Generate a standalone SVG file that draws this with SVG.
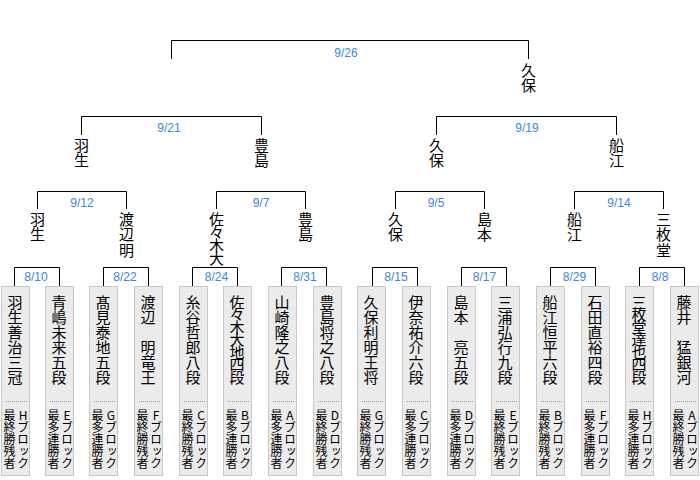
<svg xmlns="http://www.w3.org/2000/svg" width="700" height="480" viewBox="0 0 700 480">
<style>
.ln{fill:none;stroke:#000;stroke-width:1}
.box{fill:#ebebeb;stroke:#c8c8c8;stroke-width:1}
.dot{stroke:#9a9a9a;stroke-width:1;stroke-dasharray:1 1}
.dt{font-family:"Liberation Sans",Arial,sans-serif;font-size:12px;fill:#3d85e0;text-anchor:middle}
.v{font-family:"Noto Sans CJK JP","Noto Sans CJK SC",sans-serif;font-size:15px;fill:#000;writing-mode:vertical-rl;text-orientation:upright}
.w{letter-spacing:0.5px}
.s{font-family:"Noto Sans CJK JP","Noto Sans CJK SC",sans-serif;font-size:12px;fill:#000;writing-mode:vertical-rl;text-orientation:upright}
.c7{letter-spacing:-2.5px}
</style>
<rect width="700" height="480" fill="#fff"/>
<g id="connectors">
<path class="ln" d="M14.5,286V267.5H59.5V286M103.5,286V267.5H148.5V286M192.5,286V267.5H237.5V286M281.5,286V267.5H326.5V286M372.5,286V267.5H417.5V286M461.5,286V267.5H506.5V286M550.5,286V267.5H595.5V286M639.5,286V267.5H684.5V286"/>
<path class="ln" d="M37.5,209V191.5H126.5V209M216.5,209V191.5H305.5V209M395.5,209V191.5H484.5V209M574.5,209V191.5H663.5V209"/>
<path class="ln" d="M81.5,135V116.5H261.5V135M436.5,135V116.5H616.5V135"/>
<path class="ln" d="M171.5,59V40.5H528.5V59"/>
</g>
<g id="dates">
<text class="dt" x="346" y="57">9/26</text>
<text class="dt" x="169" y="132">9/21</text>
<text class="dt" x="527" y="132">9/19</text>
<text class="dt" x="82" y="207">9/12</text>
<text class="dt" x="261" y="207">9/7</text>
<text class="dt" x="436" y="207">9/5</text>
<text class="dt" x="619" y="207">9/14</text>
<text class="dt" x="36" y="281">8/10</text>
<text class="dt" x="125" y="281">8/22</text>
<text class="dt" x="216.5" y="281">8/24</text>
<text class="dt" x="305" y="281">8/31</text>
<text class="dt" x="396" y="281">8/15</text>
<text class="dt" x="484.5" y="281">8/17</text>
<text class="dt" x="574.5" y="281">8/29</text>
<text class="dt" x="660" y="281">8/8</text>
</g>
<g id="winners">
<text class="v w" x="528.5" y="62.5">久保</text>
<text class="v w" x="81.5" y="137.5">羽生</text>
<text class="v w" x="261.5" y="137.5">豊島</text>
<text class="v w" x="436.5" y="137.5">久保</text>
<text class="v w" x="616.5" y="137.5">船江</text>
<text class="v w" x="37.5" y="211.5">羽生</text>
<text class="v w" x="126.5" y="211.5">渡辺明</text>
<text class="v" x="216.5" y="211.5" style="letter-spacing:-2px">佐々木大</text>
<text class="v w" x="305.5" y="211.5">豊島</text>
<text class="v w" x="395.5" y="211.5">久保</text>
<text class="v w" x="484.5" y="211.5">島本</text>
<text class="v w" x="574.5" y="211.5">船江</text>
<text class="v w" x="663.5" y="211.5">三枚堂</text>
</g>
<g id="p1"><rect class="box" x="1.5" y="286.5" width="28" height="189"/><text class="v" x="15" y="294.5">羽生善治三冠</text><line class="dot" x1="6" y1="401.5" x2="27" y2="401.5"/><text class="s" x="9.5" y="409.5">最終勝残者</text><text class="s" x="23" y="409.5">Hブロック</text></g>
<g id="p2"><rect class="box" x="45.5" y="286.5" width="28" height="189"/><text class="v" x="59" y="294.5">青嶋未来五段</text><line class="dot" x1="50" y1="401.5" x2="71" y2="401.5"/><text class="s" x="53.5" y="409.5">最多連勝者</text><text class="s" x="67" y="409.5">Eブロック</text></g>
<g id="p3"><rect class="box" x="89.5" y="286.5" width="28" height="189"/><text class="v" x="103" y="294.5">髙見泰地五段</text><line class="dot" x1="94" y1="401.5" x2="115" y2="401.5"/><text class="s" x="97.5" y="409.5">最多連勝者</text><text class="s" x="111" y="409.5">Gブロック</text></g>
<g id="p4"><rect class="box" x="134.5" y="286.5" width="28" height="189"/><text class="v" x="148" y="294.5">渡辺　明竜王</text><line class="dot" x1="139" y1="401.5" x2="160" y2="401.5"/><text class="s" x="142.5" y="409.5">最終勝残者</text><text class="s" x="156" y="409.5">Fブロック</text></g>
<g id="p5"><rect class="box" x="179.5" y="286.5" width="28" height="189"/><text class="v" x="193" y="294.5">糸谷哲郎八段</text><line class="dot" x1="184" y1="401.5" x2="205" y2="401.5"/><text class="s" x="187.5" y="409.5">最終勝残者</text><text class="s" x="201" y="409.5">Cブロック</text></g>
<g id="p6"><rect class="box" x="223.5" y="286.5" width="28" height="189"/><text class="v c7" x="237" y="294.5">佐々木大地四段</text><line class="dot" x1="228" y1="401.5" x2="249" y2="401.5"/><text class="s" x="231.5" y="409.5">最多連勝者</text><text class="s" x="245" y="409.5">Bブロック</text></g>
<g id="p7"><rect class="box" x="268.5" y="286.5" width="28" height="189"/><text class="v" x="282" y="294.5">山崎隆之八段</text><line class="dot" x1="273" y1="401.5" x2="294" y2="401.5"/><text class="s" x="276.5" y="409.5">最多連勝者</text><text class="s" x="290" y="409.5">Aブロック</text></g>
<g id="p8"><rect class="box" x="313.5" y="286.5" width="28" height="189"/><text class="v" x="327" y="294.5">豊島将之八段</text><line class="dot" x1="318" y1="401.5" x2="339" y2="401.5"/><text class="s" x="321.5" y="409.5">最終勝残者</text><text class="s" x="335" y="409.5">Dブロック</text></g>
<g id="p9"><rect class="box" x="357.5" y="286.5" width="28" height="189"/><text class="v" x="371" y="294.5">久保利明王将</text><line class="dot" x1="362" y1="401.5" x2="383" y2="401.5"/><text class="s" x="365.5" y="409.5">最終勝残者</text><text class="s" x="379" y="409.5">Gブロック</text></g>
<g id="p10"><rect class="box" x="402.5" y="286.5" width="28" height="189"/><text class="v" x="416" y="294.5">伊奈祐介六段</text><line class="dot" x1="407" y1="401.5" x2="428" y2="401.5"/><text class="s" x="410.5" y="409.5">最多連勝者</text><text class="s" x="424" y="409.5">Cブロック</text></g>
<g id="p11"><rect class="box" x="447.5" y="286.5" width="28" height="189"/><text class="v" x="461" y="294.5">島本　亮五段</text><line class="dot" x1="452" y1="401.5" x2="473" y2="401.5"/><text class="s" x="455.5" y="409.5">最多連勝者</text><text class="s" x="469" y="409.5">Dブロック</text></g>
<g id="p12"><rect class="box" x="491.5" y="286.5" width="28" height="189"/><text class="v" x="505" y="294.5">三浦弘行九段</text><line class="dot" x1="496" y1="401.5" x2="517" y2="401.5"/><text class="s" x="499.5" y="409.5">最終勝残者</text><text class="s" x="513" y="409.5">Eブロック</text></g>
<g id="p13"><rect class="box" x="536.5" y="286.5" width="28" height="189"/><text class="v" x="550" y="294.5">船江恒平六段</text><line class="dot" x1="541" y1="401.5" x2="562" y2="401.5"/><text class="s" x="544.5" y="409.5">最終勝残者</text><text class="s" x="558" y="409.5">Bブロック</text></g>
<g id="p14"><rect class="box" x="581.5" y="286.5" width="28" height="189"/><text class="v" x="595" y="294.5">石田直裕四段</text><line class="dot" x1="586" y1="401.5" x2="607" y2="401.5"/><text class="s" x="589.5" y="409.5">最多連勝者</text><text class="s" x="603" y="409.5">Fブロック</text></g>
<g id="p15"><rect class="box" x="625.5" y="286.5" width="28" height="189"/><text class="v c7" x="639" y="294.5">三枚堂達也四段</text><line class="dot" x1="630" y1="401.5" x2="651" y2="401.5"/><text class="s" x="633.5" y="409.5">最多連勝者</text><text class="s" x="647" y="409.5">Hブロック</text></g>
<g id="p16"><rect class="box" x="670.5" y="286.5" width="28" height="189"/><text class="v" x="684" y="294.5">藤井　猛銀河</text><line class="dot" x1="675" y1="401.5" x2="696" y2="401.5"/><text class="s" x="678.5" y="409.5">最終勝残者</text><text class="s" x="692" y="409.5">Aブロック</text></g>
</svg>
